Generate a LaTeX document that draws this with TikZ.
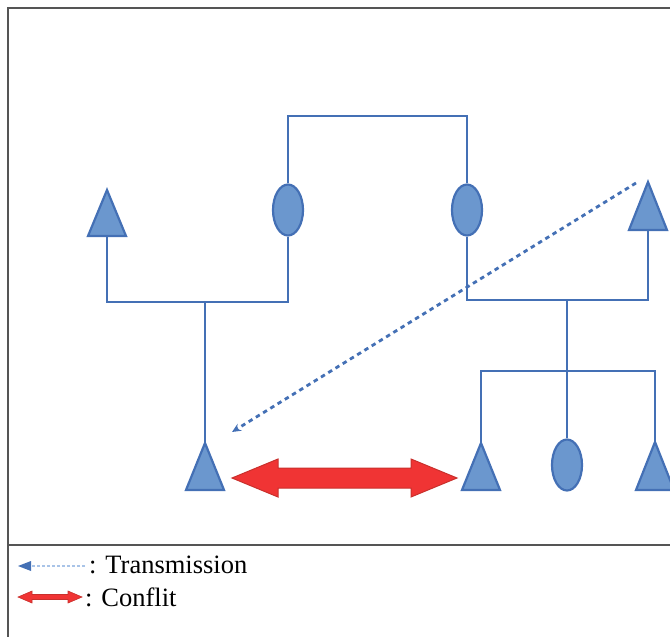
\documentclass[tikz,border=0pt]{standalone}
\usepackage{fontspec}
\setmainfont{Liberation Serif}
\usetikzlibrary{shapes.geometric,arrows.meta,calc}
\definecolor{lblue}{HTML}{4470B5}
\definecolor{fblue}{HTML}{6B97CE}
\definecolor{pblue}{HTML}{A9C4E8}
\definecolor{ared}{HTML}{F03434}
\definecolor{ored}{HTML}{C9302C}
\definecolor{frame}{HTML}{555555}
\tikzset{
  wire/.style={lblue, line width=2.8pt},
  tri/.style={draw=lblue, fill=fblue, line width=2.2pt, line join=miter},
  ell/.style={ellipse, draw=lblue, fill=fblue, line width=2.2pt, minimum width=30pt, minimum height=51pt, inner sep=0pt},
  trans/.style={lblue, line width=2.8pt, dash pattern=on 4.5pt off 4pt, -{Stealth[length=9pt,width=8pt]}},
  redarrow/.style={fill=ared, draw=ored, line width=1pt, line join=miter},
  framel/.style={frame, line width=1.3pt},
  legtext/.style={anchor=west, inner sep=0pt, font=\fontsize{26.5}{30}\selectfont}
}
\begin{document}
\begin{tikzpicture}[x=1pt,y=-1pt]
\useasboundingbox (0,0) rectangle (670,637);
% frame
\draw[framel] (670,8) -- (8,8) -- (8,637);
\draw[framel] (8,545) -- (670,545);

% triangles (apex a, base centre b)
\coordinate (a1) at (107,190); \coordinate (b1) at (107,236);
\coordinate (a2) at (648,182); \coordinate (b2) at (648,230);
\coordinate (a3) at (205,443);
\coordinate (a4) at (481,443);
\coordinate (a5) at (655,442);
\foreach \p/\h in {a1/46,a2/48,a3/47,a4/47,a5/48}
  \filldraw[tri] (\p) -- ++(19,\h) -- ++(-38,0) -- cycle;

% ellipses
\node[ell] (e1) at (288,210) {};
\node[ell] (e2) at (467,210) {};
\node[ell] (e3) at (567,465) {};

% junctions
\coordinate (j1) at (205,302);
\coordinate (top) at (377,116);
\coordinate (j2) at (567,300);
\coordinate (j3) at (567,371);

% wires
\draw[wire] (b1) |- (j1) -| (e1.south);
\draw[wire] (j1) -- (a3);
\draw[wire] (e1.north) |- (top) -| (e2.north);
\draw[wire] (e2.south) |- (j2) -| (b2);
\draw[wire] (j2) -- (j3);
\draw[wire] (j3) -| (a4);
\draw[wire] (j3) -- (e3.north);
\draw[wire] (j3) -| (a5);

% transmission (dotted arrow)
\coordinate (ds) at (636,183);
\coordinate (de) at (232,432);
\draw[trans] (ds) -- (de);

% conflict (red double arrow)
\coordinate (cl) at (232,478);
\coordinate (cr) at (457,478);
\filldraw[redarrow] (cl) -- ++(46,-19) -- ++(0,9) -- ($(cr)+(-46,-10)$) -- ++(0,-9) -- (cr) -- ++(-46,19) -- ++(0,-9) -- ($(cl)+(46,10)$) -- ++(0,9) -- cycle;

% legend
\coordinate (l1s) at (85,566);
\coordinate (l1e) at (18,566);
\draw[pblue, line width=1.5pt, dash pattern=on 3pt off 2pt] (l1s) -- ($(l1e)+(10,0)$);
\fill[lblue] (l1e) -- ++(13,-5) -- ++(0,10) -- cycle;
\node[legtext] (lt1) at (89,565) {: Transmission};

\coordinate (l2l) at (18,597);
\coordinate (l2r) at (82,597);
\filldraw[redarrow, line width=0.6pt] (l2l) -- ++(14,-6) -- ++(0,3.5) -- ($(l2r)+(-14,-2.5)$) -- ++(0,-3.5) -- (l2r) -- ++(-14,6) -- ++(0,-3.5) -- ($(l2l)+(14,2.5)$) -- ++(0,3.5) -- cycle;
\node[legtext] (lt2) at (85,597) {: Conflit};
\end{tikzpicture}
\end{document}
